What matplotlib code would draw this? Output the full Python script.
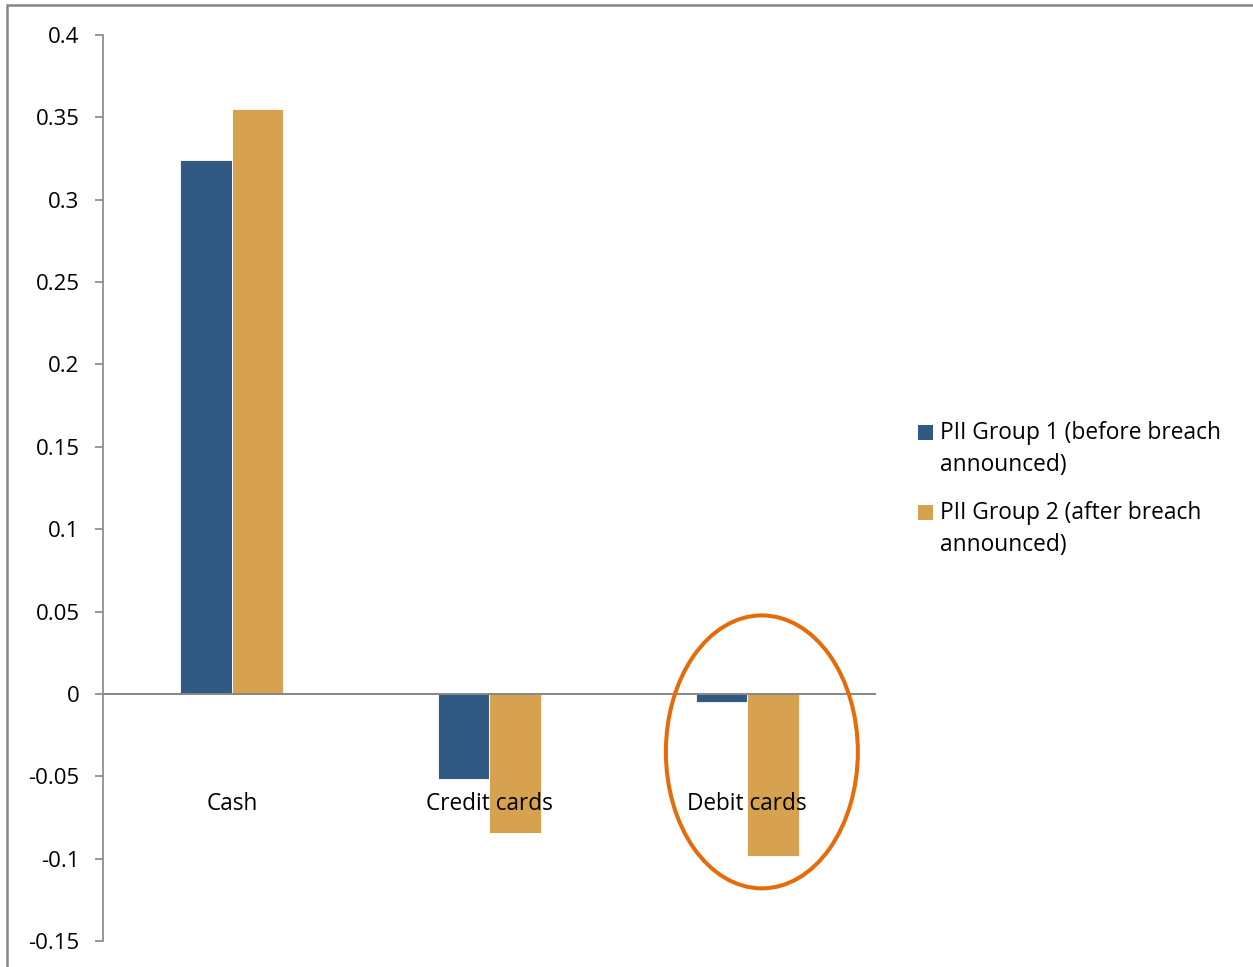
import numpy as np
import matplotlib
matplotlib.use("Agg")
import matplotlib.pyplot as plt
from matplotlib.patches import Ellipse, Rectangle

plt.rcParams['font.family'] = ['Open Sans', 'DejaVu Sans']

categories = ["Cash", "Credit cards", "Debit cards"]
series = ["PII Group 1 (before breach\nannounced)", "PII Group 2 (after breach\nannounced)"]
group1 = [0.324, -0.0515, -0.0048]
group2 = [0.355, -0.0845, -0.0985]
colors = ["#305A84", "#D7A24F"]
yticks = [0.4, 0.35, 0.3, 0.25, 0.2, 0.15, 0.1, 0.05, 0, -0.05, -0.1, -0.15]

W, H = 1253, 967
fig = plt.figure(figsize=(W/100, H/100), dpi=100)
ax = fig.add_axes([103/W, 1-941/H, (876-103)/W, (941-35)/H])

# chart-area frame
fig.patches.append(Rectangle((7/W, -0.1), 1.2, 1 - 5/H + 0.1, transform=fig.transFigure,
                             fill=False, edgecolor="#868686", linewidth=1.8))

x = np.arange(len(categories))
bw = 0.2
for vals, col, off in [(group1, colors[0], -bw/2), (group2, colors[1], bw/2)]:
    ax.bar(x + off, vals, width=bw, color=col, edgecolor="white", linewidth=0.6, zorder=2)

ax.set_xlim(-0.5, 2.5)
ax.set_ylim(-0.15, 0.4)
ax.set_yticks(yticks)
ax.set_yticklabels([f"{t:g}" for t in yticks], fontsize=16)
ax.tick_params(axis="y", direction="out", length=6, width=1.2, color="#868686", pad=11)
ax.set_xticks([])
for s in ["top", "right", "bottom"]:
    ax.spines[s].set_visible(False)
ax.spines["left"].set_color("#868686")
ax.spines["left"].set_linewidth(1.2)
ax.axhline(0, color="#868686", linewidth=1.4, zorder=3)

# category labels sit just below the zero line
for xi, lab in zip(x, categories):
    ax.annotate(lab, (xi, 0), xytext=(0, -110), textcoords="offset pixels",
                ha="center", va="center", fontsize=16.3, zorder=5)

# highlight on the debit-card pair
ax.add_patch(Ellipse((2.057, -0.0352), 0.745, 0.1657, fill=False,
                     edgecolor="#E46C0A", linewidth=2.9, zorder=6, clip_on=False))

# legend
for i, (lab, col) in enumerate(zip(series, colors)):
    yc = 432 + i*80
    fig.patches.append(Rectangle((918/W, 1-(yc+8)/H), 15/W, 15/H, transform=fig.transFigure,
                                 facecolor=col, edgecolor="none"))
    fig.text(940/W, 1-(yc-11)/H, lab, ha="left", va="top", fontsize=16.4, linespacing=1.46)

fig.savefig("out.png", dpi=100)
